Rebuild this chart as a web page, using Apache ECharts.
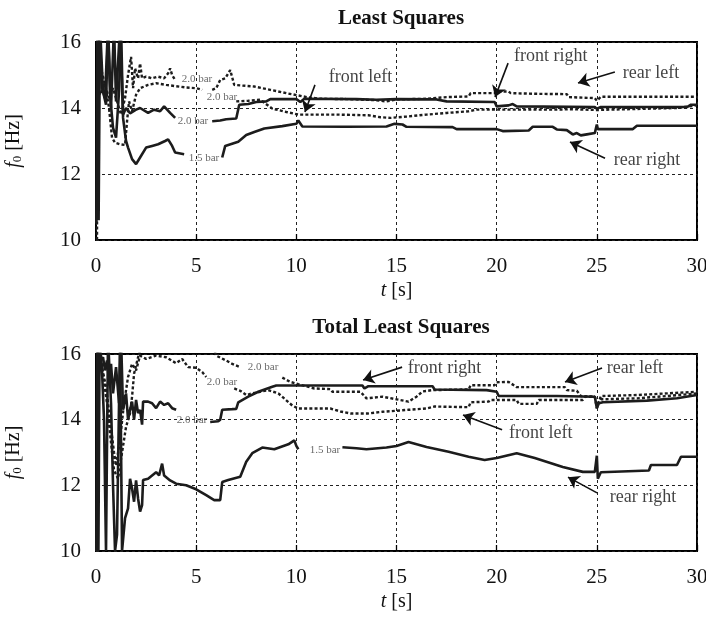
<!DOCTYPE html>
<html>
<head>
<meta charset="utf-8">
<script src="https://cdn.jsdelivr.net/npm/echarts@6/dist/echarts.min.js"></script>
<style>
  html, body { margin: 0; padding: 0; background: #fff; }
  #chart { width: 706px; height: 622px; }
</style>
</head>
<body>
<div id="chart"></div>
<script>
// Natural frequency estimates f0 [Hz] over time t [s] for the four wheels.
// A null entry marks the break where the tyre pressure was changed.

const xTicks = [0, 5, 10, 15, 20, 25, 30];
const yTicks = [10, 12, 14, 16];
const panelTitles = ['Least Squares', 'Total Least Squares'];

// ---- Least Squares ----
const lsRearLeft = [
  [0.05, 10], [0.08, 16.5], [0.25, 15.2], [0.45, 14.7], [0.65, 14.3], [0.85, 14.6], [1.05, 14.2],
  [1.25, 13.8], [1.45, 14.3], [1.6, 15.0], [1.75, 15.55], [1.85, 14.6], [1.95, 15.2], [2.1, 14.9],
  [2.2, 15.35], [2.3, 14.9], [2.5, 14.95], [2.8, 14.9], [3.1, 14.95], [3.4, 14.9], [3.6, 15.05],
  [3.7, 15.2], [3.8, 15.0], [3.95, 14.85],
  null,
  [5.8, 14.55], [6.0, 14.6], [6.2, 14.85], [6.45, 14.9], [6.7, 15.15], [6.9, 14.7], [7.3, 14.68],
  [7.9, 14.65], [8.7, 14.55], [9.5, 14.45], [10.1, 14.38], [10.6, 14.32], [11.2, 14.28], [12.5, 14.27],
  [13.9, 14.24], [14.5, 14.2], [15.0, 14.26], [16.5, 14.28], [17.5, 14.33], [18.6, 14.35], [18.7, 14.45],
  [19.9, 14.45], [20.0, 14.5], [20.6, 14.5], [20.7, 14.45], [22.0, 14.43], [23.5, 14.42], [23.6, 14.33],
  [24.9, 14.3], [25.0, 14.22], [25.2, 14.34], [30, 14.34]
];
const lsFrontLeft = [
  [0.05, 14.8], [0.2, 14.4], [0.45, 14.75], [0.65, 14.0], [0.8, 13.1], [0.95, 12.95], [1.2, 12.9],
  [1.45, 12.88], [1.55, 13.6], [1.65, 14.2], [1.8, 13.9], [2.0, 14.4], [2.2, 14.6], [2.6, 14.7],
  [3.0, 14.75], [3.5, 14.7], [4.0, 14.66], [4.5, 14.62], [5.0, 14.6], [5.3, 14.55],
  null,
  [7.0, 14.2], [7.6, 14.22], [8.2, 14.25], [8.8, 13.98], [9.5, 13.88], [10.1, 13.8], [12.0, 13.8],
  [13.6, 13.78], [14.2, 13.72], [14.7, 13.7], [15.5, 13.74], [16.5, 13.8], [17.5, 13.85], [18.6, 13.9],
  [19.0, 13.95], [22, 13.95], [24, 13.96], [25, 13.94], [27, 13.97], [29, 14.0], [30, 14.08]
];
const lsFrontRight = [
  [0.12, 16.5], [0.3, 14.6], [0.45, 14.3], [0.6, 16.5], [0.75, 14.0], [0.9, 16.5], [1.0, 14.2],
  [1.2, 16.5], [1.35, 13.8], [1.5, 14.0], [1.7, 13.84], [2.0, 13.95], [2.2, 14.0], [2.6, 13.85],
  [2.9, 13.95], [3.2, 13.9], [3.4, 14.05], [3.7, 13.85], [3.95, 13.7],
  null,
  [5.8, 13.6], [6.2, 13.62], [6.5, 13.66], [7.0, 13.68], [7.15, 14.1], [7.6, 14.12], [8.0, 14.18],
  [8.5, 14.2], [8.7, 14.27], [10.0, 14.27], [10.2, 14.18], [10.4, 14.28], [13, 14.27], [14, 14.25],
  [15, 14.27], [17, 14.26], [17.5, 14.2], [19.9, 14.18], [20.0, 14.05], [20.6, 14.08], [20.8, 14.12],
  [21.0, 14.05], [24.9, 14.03], [25.0, 13.98], [25.2, 14.03], [29.5, 14.03], [29.7, 14.1], [30, 14.1]
];
const lsRearRight = [
  [0.02, 10.5], [0.07, 16.5], [0.13, 10.6], [0.2, 16.5], [0.35, 14.5], [0.5, 14.1], [0.6, 16.5],
  [0.7, 14.4], [0.85, 13.4], [1.0, 13.1], [1.15, 14.5], [1.25, 16.5], [1.35, 13.7], [1.5, 13.0],
  [1.6, 12.8], [1.8, 12.45], [2.0, 12.3], [2.2, 12.5], [2.5, 12.8], [2.8, 12.85], [3.1, 12.9],
  [3.45, 13.0], [3.6, 13.05], [3.8, 12.85], [3.95, 12.65], [4.4, 12.6],
  null,
  [6.3, 12.5], [6.45, 12.85], [7.1, 12.98], [7.5, 13.18], [7.9, 13.27], [8.4, 13.38], [9.3, 13.45],
  [10.0, 13.52], [10.1, 13.62], [10.3, 13.44], [12.5, 13.43], [14.5, 13.44], [14.9, 13.52], [15.3, 13.5],
  [15.5, 13.43], [17.8, 13.42], [18.0, 13.36], [20.0, 13.36], [20.3, 13.3], [21.6, 13.32], [21.8, 13.43],
  [22.8, 13.43], [23.0, 13.35], [23.5, 13.33], [23.8, 13.2], [24.0, 13.24], [24.2, 13.17], [24.5, 13.2],
  [24.9, 13.24], [25.0, 13.5], [25.05, 13.36], [26.8, 13.36], [27.0, 13.46], [30, 13.46]
];

// ---- Total Least Squares ----
const tlsRearLeft = [
  [0.05, 10], [0.08, 16.5], [0.35, 15.35], [0.55, 14.5], [0.7, 13.58], [0.9, 12.46], [1.1, 12.2],
  [1.3, 13.0], [1.5, 13.78], [1.7, 14.2], [1.8, 14.7], [1.9, 15.4], [2.1, 15.9], [2.3, 16.3],
  [5.8, 16.3], [6.0, 15.95], [6.5, 15.8], [6.8, 15.7], [7.2, 15.6],
  null,
  [9.3, 15.28], [9.7, 15.15], [10.1, 15.08], [10.9, 14.95], [11.7, 14.93], [11.8, 14.85], [13.2, 14.85],
  [13.5, 14.65], [14.3, 14.7], [15.0, 14.62], [15.6, 14.55], [16.0, 14.7], [16.3, 14.86], [16.8, 14.9],
  [18.6, 14.92], [18.7, 15.05], [19.9, 15.05], [20.0, 15.14], [20.6, 15.15], [21.0, 14.99], [23.4, 14.99],
  [23.5, 14.9], [24.0, 14.88], [24.2, 14.72], [24.9, 14.7], [25.0, 14.35], [25.2, 14.72], [27, 14.75],
  [28.5, 14.8], [30, 14.85]
];
const tlsFrontLeft = [
  [0.1, 16.5], [0.3, 15.6], [0.5, 15.0], [0.7, 14.0], [0.9, 13.0], [1.0, 12.6], [1.2, 13.4],
  [1.4, 14.5], [1.6, 15.3], [1.8, 15.7], [2.0, 15.5], [2.2, 15.95], [2.5, 15.85], [3.0, 15.95],
  [3.5, 15.9], [4.0, 15.72], [4.3, 15.85], [4.6, 15.6], [5.0, 15.58], [5.3, 15.45], [5.5, 15.3],
  null,
  [6.9, 14.95], [7.2, 14.88], [7.5, 14.75], [7.8, 14.8], [8.6, 14.9], [9.1, 14.8], [9.8, 14.43],
  [10.1, 14.34], [11.7, 14.34], [12.2, 14.25], [12.7, 14.19], [13.6, 14.19], [14.3, 14.24], [15.6, 14.3],
  [16.5, 14.34], [16.9, 14.4], [18.6, 14.38], [18.7, 14.53], [19.6, 14.55], [19.7, 14.6], [21.0, 14.6],
  [21.1, 14.48], [22.0, 14.48], [22.1, 14.6], [24.3, 14.6], [24.4, 14.7], [24.9, 14.7], [25.0, 14.45],
  [25.2, 14.62], [27, 14.65], [28.5, 14.72], [30, 14.8]
];
const tlsFrontRight = [
  [0.05, 10], [0.1, 16.5], [0.2, 15.8], [0.35, 15.9], [0.45, 15.5], [0.55, 15.8], [0.65, 15.2],
  [0.75, 15.7], [0.85, 14.8], [1.0, 15.6], [1.15, 14.5], [1.25, 16.5], [1.35, 14.3], [1.5, 14.8],
  [1.6, 14.0], [1.7, 14.3], [1.8, 14.55], [1.9, 14.0], [2.0, 14.6], [2.1, 14.2], [2.2, 14.3],
  [2.3, 13.85], [2.35, 14.55], [2.6, 14.55], [2.8, 14.5], [3.0, 14.35], [3.2, 14.55], [3.4, 14.45],
  [3.6, 14.5], [3.8, 14.35], [4.0, 14.3],
  null,
  [5.7, 13.93], [6.1, 13.95], [6.2, 14.0], [6.3, 14.3], [6.8, 14.32], [7.0, 14.33], [7.1, 14.53],
  [7.6, 14.7], [8.1, 14.85], [8.8, 15.0], [9.0, 15.04], [13.3, 15.04], [13.4, 14.95], [13.6, 15.02],
  [16.8, 15.02], [16.9, 14.92], [19.5, 14.9], [20.0, 14.85], [20.1, 14.72], [23.0, 14.72], [24.9, 14.7],
  [25.0, 14.35], [25.1, 14.5], [25.3, 14.53], [27.5, 14.58], [29, 14.65], [30, 14.75]
];
const tlsRearRight = [
  [0.02, 10], [0.06, 16.5], [0.12, 10], [0.18, 16.5], [0.3, 15.5], [0.4, 14.0], [0.5, 10],
  [0.6, 16.5], [0.75, 14.5], [0.85, 12.0], [0.95, 10], [1.05, 10.5], [1.2, 16.5], [1.3, 10],
  [1.45, 11.0], [1.6, 11.3], [1.7, 12.2], [1.8, 11.9], [1.9, 11.5], [2.0, 12.15], [2.1, 11.6],
  [2.2, 11.2], [2.3, 11.4], [2.35, 12.16], [2.6, 12.2], [3.0, 12.4], [3.15, 12.3], [3.3, 12.66],
  [3.4, 12.3], [3.7, 12.15], [4.0, 12.05], [4.5, 12.0], [5.0, 11.88], [5.5, 11.7], [5.9, 11.55],
  [6.2, 11.55], [6.3, 12.1], [6.6, 12.16], [7.2, 12.26], [7.5, 12.72], [7.8, 12.98], [8.3, 13.15],
  [8.9, 13.1], [9.6, 13.25], [9.9, 13.37], [10.0, 13.2], [10.1, 13.1],
  null,
  [12.3, 13.16], [13, 13.13], [13.5, 13.1], [14.5, 13.15], [15.0, 13.2], [15.6, 13.32], [16.5, 13.17],
  [17.6, 13.02], [18.6, 12.87], [19.4, 12.77], [20, 12.83], [21, 12.98], [21.9, 12.83], [23.3, 12.56],
  [24.3, 12.41], [24.9, 12.41], [25.0, 12.9], [25.05, 12.2], [25.2, 12.4], [27.6, 12.45], [27.7, 12.62],
  [29.0, 12.62], [29.2, 12.87], [30, 12.87]
];

// Annotation text anchors [t, f, text] and arrows [t0, f0, t1, f1] in data units
const lsNotes = [[13.2, 14.94, 'front left'], [22.7, 15.58, 'front right'], [27.7, 15.06, 'rear left'], [27.5, 12.42, 'rear right']];
const lsArrows = [[10.93, 14.7, 10.43, 13.88], [20.57, 15.36, 19.92, 14.33], [25.9, 15.09, 24.06, 14.76], [25.41, 12.48, 23.66, 12.97]];
const lsPressure = [[5.04, 14.88, '2.0 bar'], [6.29, 14.33, '2.0 bar'], [4.84, 13.6, '2.0 bar'], [5.39, 12.48, '1.5 bar']];

const tlsNotes = [[17.4, 15.57, 'front right'], [26.9, 15.57, 'rear left'], [22.2, 13.59, 'front left'], [27.3, 11.64, 'rear right']];
const tlsArrows = [[15.28, 15.6, 13.33, 15.21], [25.26, 15.57, 23.41, 15.15], [20.27, 13.69, 18.32, 14.14], [25.01, 11.77, 23.56, 12.25]];
const tlsPressure = [[8.34, 15.6, '2.0 bar'], [6.29, 15.15, '2.0 bar'], [4.79, 13.99, '2.0 bar'], [11.43, 13.07, '1.5 bar']];

const SERIF = '"Liberation Serif", "Times New Roman", serif';
const INK = '#1c1c1c';

function toSeriesData(pts) {
  return pts.map(p => (p ? p : ['-', '-']));
}

function curve(name, pts, idx, dotted) {
  return {
    type: 'line',
    name: name,
    xAxisIndex: idx,
    yAxisIndex: idx,
    data: toSeriesData(pts),
    symbol: 'none',
    showSymbol: false,
    connectNulls: false,
    clip: true,
    silent: true,
    z: 3,
    lineStyle: dotted
      ? { color: INK, width: 2.4, type: [3, 2.2] }
      : { color: INK, width: 2.6, type: 'solid' }
  };
}

function notes(idx, texts, arrows, pressure) {
  return [
    {
      type: 'scatter',
      xAxisIndex: idx,
      yAxisIndex: idx,
      symbolSize: 0,
      silent: true,
      z: 5,
      data: texts.map(n => ({ value: [n[0], n[1]], name: n[2] })),
      label: {
        show: true, position: 'inside', formatter: '{b}',
        fontFamily: SERIF, fontSize: 18, color: '#111'
      },
      markLine: {
        silent: true,
        animation: false,
        symbol: ['none', 'arrow'],
        symbolSize: 11,
        label: { show: false },
        lineStyle: { color: '#111', width: 1.6, type: 'solid' },
        data: arrows.map(a => [{ coord: [a[0], a[1]] }, { coord: [a[2], a[3]] }])
      }
    },
    {
      type: 'scatter',
      xAxisIndex: idx,
      yAxisIndex: idx,
      symbolSize: 0,
      silent: true,
      z: 5,
      data: pressure.map(n => ({ value: [n[0], n[1]], name: n[2] })),
      label: {
        show: true, position: 'inside', formatter: '{b}',
        fontFamily: SERIF, fontSize: 11, color: '#444'
      }
    }
  ];
}

function xAxis(idx) {
  return {
    type: 'value', gridIndex: idx,
    min: xTicks[0], max: xTicks[xTicks.length - 1], interval: 5,
    name: '{i|t} [s]', nameLocation: 'middle', nameGap: 41,
    nameTextStyle: {
      fontFamily: SERIF, fontSize: 20, color: '#111',
      rich: { i: { fontFamily: SERIF, fontSize: 20, fontStyle: 'italic', color: '#111' } }
    },
    axisLine: { show: false },
    axisTick: { show: true, inside: true, length: 6, lineStyle: { color: '#000', width: 1.3 } },
    axisLabel: { fontFamily: SERIF, fontSize: 21, color: '#111', margin: 16 },
    splitLine: { show: true, lineStyle: { color: '#222', width: 1, type: [3, 3] } }
  };
}

function yAxis(idx) {
  return {
    type: 'value', gridIndex: idx,
    min: yTicks[0], max: yTicks[yTicks.length - 1], interval: 2,
    name: '{i|f}{s|0} [Hz]', nameLocation: 'middle', nameGap: 72, nameRotate: 90,
    nameTextStyle: {
      fontFamily: SERIF, fontSize: 20, color: '#111',
      rich: {
        i: { fontFamily: SERIF, fontSize: 20, fontStyle: 'italic', color: '#111' },
        s: { fontFamily: SERIF, fontSize: 13, color: '#111', verticalAlign: 'bottom', padding: [6, 0, 0, 0] }
      }
    },
    axisLine: { show: false },
    axisTick: { show: false },
    axisLabel: { fontFamily: SERIF, fontSize: 21, color: '#111', margin: 15 },
    splitLine: { show: true, lineStyle: { color: '#222', width: 1, type: [3, 3] } }
  };
}

const chart = echarts.init(document.getElementById('chart'), null, { renderer: 'canvas' });

const gridBase = {
  left: 96, right: 9, show: true, borderColor: '#000', borderWidth: 2,
  backgroundColor: 'transparent', containLabel: false, outerBoundsMode: 'none'
};

chart.setOption({
  backgroundColor: '#fff',
  animation: false,
  title: [
    { text: panelTitles[0], left: 396, top: 3, textAlign: 'center',
      textStyle: { fontFamily: SERIF, fontWeight: 'bold', fontSize: 21, color: '#111' } },
    { text: panelTitles[1], left: 396, top: 312, textAlign: 'center',
      textStyle: { fontFamily: SERIF, fontWeight: 'bold', fontSize: 21, color: '#111' } }
  ],
  grid: [
    Object.assign({}, gridBase, { top: 42, height: 198 }),
    Object.assign({}, gridBase, { top: 354, height: 197 })
  ],
  xAxis: [xAxis(0), xAxis(1)],
  yAxis: [yAxis(0), yAxis(1)],
  series: [
    curve('rear left', lsRearLeft, 0, true),
    curve('front left', lsFrontLeft, 0, true),
    curve('front right', lsFrontRight, 0, false),
    curve('rear right', lsRearRight, 0, false),
    curve('rear left', tlsRearLeft, 1, true),
    curve('front left', tlsFrontLeft, 1, true),
    curve('front right', tlsFrontRight, 1, false),
    curve('rear right', tlsRearRight, 1, false)
  ].concat(notes(0, lsNotes, lsArrows, lsPressure), notes(1, tlsNotes, tlsArrows, tlsPressure))
});
</script>
</body>
</html>
